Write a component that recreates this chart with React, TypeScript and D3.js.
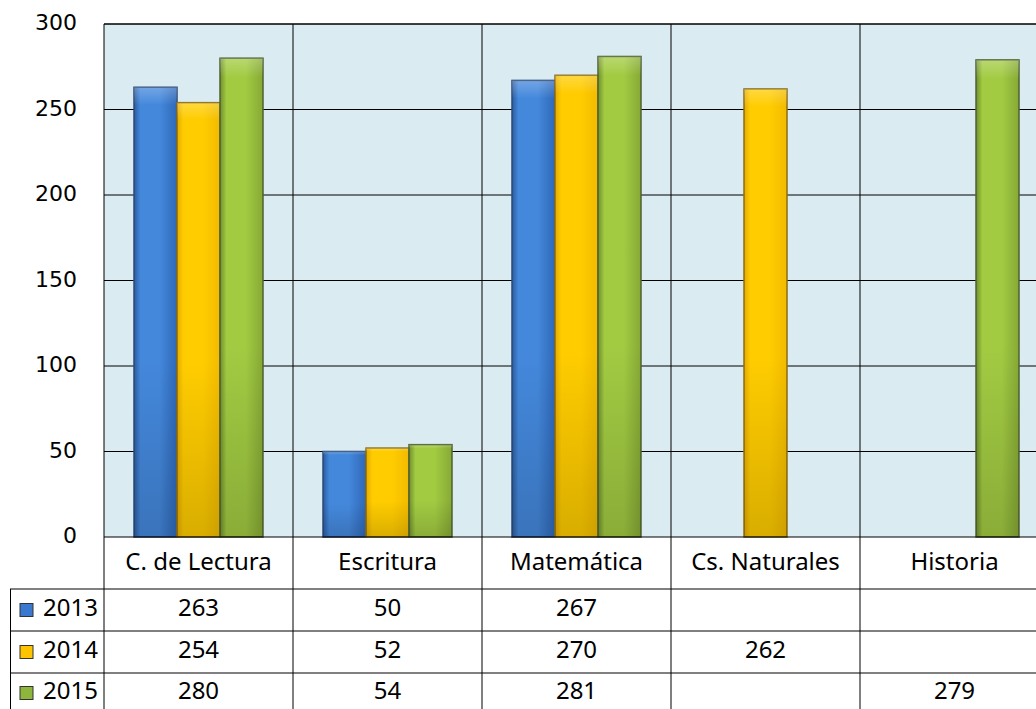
import React from "react";
import * as d3 from "d3";

const categories = ["C. de Lectura", "Escritura", "Matemática", "Cs. Naturales", "Historia"];
const years = ["2013", "2014", "2015"];
const values2013: (number | null)[] = [263, 50, 267, null, null];
const values2014: (number | null)[] = [254, 52, 270, 262, null];
const values2015: (number | null)[] = [280, 54, 281, null, 279];
const yTicks = [0, 50, 100, 150, 200, 250, 300];

const series = [values2013, values2014, values2015];
const colors = [
  { id: "g2013", l: "#2a5c9f", m: "#4488dc", r: "#2f68b8", stroke: "#2c4a78", key: "#3b78cf" },
  { id: "g2014", l: "#e6aa00", m: "#ffcc00", r: "#f2bb00", stroke: "#8a6d10", key: "#ffc400" },
  { id: "g2015", l: "#6f8f2c", m: "#a2cb42", r: "#86a935", stroke: "#4f6230", key: "#8fb63c" },
];

export default function App() {
  const W = 1036, H = 709;
  const plotLeft = 104, plotTop = 24, plotBottom = 537;
  const catW = 189;
  const x = d3.scaleBand<string>().domain(categories).range([plotLeft, plotLeft + catW * categories.length]);
  const xs = d3.scaleBand<string>().domain(years).range([30, catW - 30]);
  const y = d3.scaleLinear().domain([0, 300]).range([plotBottom, plotTop]);
  const rowTops = [589, 631, 673, 713];
  const font = "'Comic Sans MS', 'Noto Sans', sans-serif";
  const tickFont = "'DejaVu Sans', Verdana, sans-serif";
  const right = plotLeft + catW * categories.length;

  return (
    <svg width={W} height={H} style={{ position: "absolute", left: 0, top: 0, background: "#fff" }}>
      <defs>
        {colors.map((c) => (
          <React.Fragment key={c.id}>
            <linearGradient id={c.id} x1="0" x2="1" y1="0" y2="0">
              <stop offset="0" stopColor={c.l} />
              <stop offset="0.15" stopColor={c.m} />
              <stop offset="0.6" stopColor={c.m} />
              <stop offset="1" stopColor={c.r} />
            </linearGradient>
            <linearGradient id={c.id + "v"} x1="0" x2="0" y1="0" y2="1">
              <stop offset="0" stopColor="#fff" stopOpacity={0.25} />
              <stop offset="0.04" stopColor="#fff" stopOpacity={0} />
              <stop offset="0.6" stopColor="#000" stopOpacity={0} />
              <stop offset="1" stopColor="#000" stopOpacity={0.15} />
            </linearGradient>
          </React.Fragment>
        ))}
      </defs>
      <rect x={plotLeft} y={plotTop} width={right - plotLeft} height={plotBottom - plotTop} fill="#daebf2" />
      {yTicks.filter((t) => t > 0).map((t) => (
        <line key={t} x1={plotLeft} x2={right} y1={y(t)} y2={y(t)} stroke="#000" strokeWidth={1} />
      ))}
      {yTicks.map((t) => (
        <text key={"t" + t} x={77} y={y(t)} textAnchor="end" dominantBaseline="middle" fontFamily={tickFont} fontWeight={400} fontSize={22} fill="#000">
          {t}
        </text>
      ))}
      {series.map((vals, si) =>
        vals.map((v, ci) => {
          if (v == null) return null;
          const bx = (x(categories[ci]) as number) + (xs(years[si]) as number);
          const bw = xs.bandwidth();
          const by = y(v);
          const bh = plotBottom - by;
          const c = colors[si];
          return (
            <g key={si + "-" + ci}>
              <rect x={bx} y={by} width={bw} height={bh} fill={`url(#${c.id})`} stroke={c.stroke} strokeWidth={1.5} />
              <rect x={bx} y={by} width={bw} height={bh} fill={`url(#${c.id}v)`} />
            </g>
          );
        })
      )}
      {categories.map((cat) => (
        <line key={"v" + cat} x1={x(cat) as number} x2={x(cat) as number} y1={plotTop} y2={H} stroke="#000" strokeWidth={1} />
      ))}
      <line x1={right} x2={right} y1={plotTop} y2={H} stroke="#000" />
      <line x1={plotLeft} x2={right} y1={plotTop} y2={plotTop} stroke="#000" />
      <line x1={plotLeft} x2={right} y1={plotBottom} y2={plotBottom} stroke="#000" />
      {rowTops.slice(0, 3).map((ry) => (
        <line key={"r" + ry} x1={10} x2={right} y1={ry} y2={ry} stroke="#000" />
      ))}
      <line x1={10.5} x2={10.5} y1={589} y2={H} stroke="#000" />
      {categories.map((cat) => (
        <text key={"c" + cat} x={(x(cat) as number) + catW / 2} y={564} textAnchor="middle" dominantBaseline="middle" fontFamily={font} fontSize={24} fill="#000">
          {cat}
        </text>
      ))}
      {years.map((yr, si) => {
        const cy = (rowTops[si] + rowTops[si + 1]) / 2;
        return (
          <g key={"row" + yr}>
            <rect x={20} y={cy - 6.5} width={13} height={13} fill={colors[si].key} stroke="#333" strokeWidth={1} />
            <text x={43} y={cy} dominantBaseline="middle" fontFamily={font} fontSize={24} fill="#000">{yr}</text>
            {series[si].map((v, ci) =>
              v == null ? null : (
                <text key={ci} x={(x(categories[ci]) as number) + catW / 2} y={cy} textAnchor="middle" dominantBaseline="middle" fontFamily={font} fontSize={24} fill="#000">
                  {v}
                </text>
              )
            )}
          </g>
        );
      })}
    </svg>
  );
}
